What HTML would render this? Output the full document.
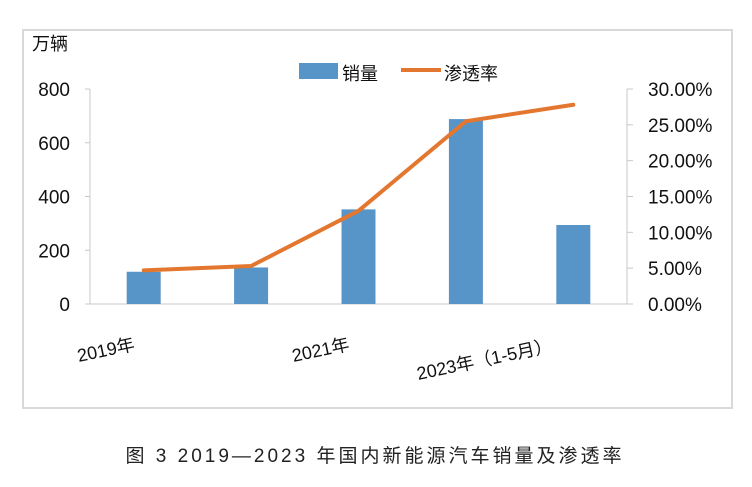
<!DOCTYPE html>
<html><head><meta charset="utf-8"><style>
body{margin:0;width:752px;height:487px;background:#fff;overflow:hidden;font-family:"Liberation Sans","Noto Sans CJK SC",sans-serif}
</style></head><body>
<svg width="752" height="487" style="position:absolute;left:0;top:0">
<rect x="23" y="30" width="709" height="378" fill="#fff" stroke="#d9d9d9" stroke-width="2"/>
<g id="axes"></g>
<g id="bars"></g>
<g id="line"></g>
<text x="32" y="50" font-size="18" fill="#111">万辆</text>
<g>
<rect x="299" y="63" width="39" height="16" fill="#5794c8"/>
<text x="342" y="80" font-size="18" fill="#111">销量</text>
<line x1="401" y1="70" x2="441" y2="70" stroke="#e3772f" stroke-width="4"/>
<text x="444" y="80" font-size="18" fill="#111">渗透率</text>
</g>
<text x="375" y="462" font-size="19" fill="#222" text-anchor="middle" letter-spacing="3">图 3 2019—2023 年国内新能源汽车销量及渗透率</text>
</svg>
<script>
const categories=["2019年","2020年","2021年","2022年","2023年（1-5月）"];
const sales=[120,136,352,688,294];
const rate=[4.7,5.3,13.0,25.5,27.8];
const leftTicks=[0,200,400,600,800];
const rightTicks=["0.00%","5.00%","10.00%","15.00%","20.00%","25.00%","30.00%"];
const shownLabels=[0,2,4];
const NS="http://www.w3.org/2000/svg";
const X0=90,X1=627,Y0=304,Y1=89;
const band=(X1-X0)/categories.length;
const xc=i=>X0+band*(i+0.5);
const yL=v=>Y0-(v/800)*(Y0-Y1);
const yR=v=>Y0-(v/30)*(Y0-Y1);
function mk(t,a,p){const e=document.createElementNS(NS,t);for(const k in a)e.setAttribute(k,a[k]);p.appendChild(e);return e;}
const ax=document.getElementById('axes');
const l1=mk('line',{x1:X0,y1:Y1,x2:X0,y2:Y0,stroke:'#c8c8c8'},ax);


const l2=mk('line',{x1:X1,y1:Y1,x2:X1,y2:Y0,stroke:'#c8c8c8'},ax);


const l3=mk('line',{x1:X0,y1:Y0,x2:X1,y2:Y0,stroke:'#c8c8c8'},ax);


leftTicks.forEach(v=>{const y=yL(v);
 mk('line',{x1:X0-5,y1:y,x2:X0,y2:y,stroke:'#c8c8c8'},ax);
 const t=mk('text',{x:70,y:y+7,'font-size':19,'text-anchor':'end',fill:'#111'},ax);t.textContent=v;
 
 });
rightTicks.forEach((s,i)=>{const y=yR(i*5);
 mk('line',{x1:X1,y1:y,x2:X1+6,y2:y,stroke:'#c8c8c8'},ax);
 const t=mk('text',{x:648,y:y+7,'font-size':19,fill:'#111'},ax);t.textContent=s;
 
 });
shownLabels.forEach(i=>{const x=xc(i)-(i===4?155:65),y=i===4?380:362;
 const t=mk('text',{x:x,y:y,'font-size':18,fill:'#111',transform:`rotate(-12 ${x} ${y})`},ax);t.textContent=categories[i];
 
 });
const bg=document.getElementById('bars');
sales.forEach((v,i)=>{const r=mk('rect',{x:xc(i)-17,y:yL(v),width:34,height:Y0-yL(v),fill:'#5794c8'},bg);
 
 });
const lg=document.getElementById('line');
const p=mk('polyline',{points:rate.map((v,i)=>xc(i)+','+yR(v)).join(' '),fill:'none',stroke:'#e3772f','stroke-width':4,'stroke-linejoin':'round','stroke-linecap':'round'},lg);


</script>
</body></html>
